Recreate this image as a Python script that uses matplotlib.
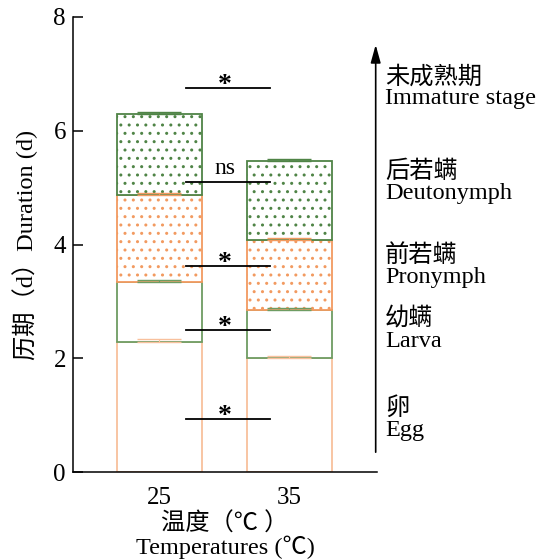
import matplotlib
matplotlib.use("Agg")
import matplotlib.pyplot as plt
import numpy as np

plt.rcParams["font.family"] = ["Liberation Serif", "Noto Sans CJK SC", "DejaVu Sans"]
plt.rcParams["hatch.linewidth"] = 1.0

# ---------------------------------------------------------------------------
# Data
# ---------------------------------------------------------------------------
temps = ["25", "35"]
stages = ["Egg", "Larva", "Pronymph", "Deutonymph"]
egg = [2.29, 2.01]
larva = [1.05, 0.84]
pronymph = [1.53, 1.23]
deutonymph = [1.42, 1.39]
err_egg = [0.04, 0.03]
err_larva = [0.04, 0.04]
err_pronymph = [0.04, 0.04]
err_deutonymph = [0.04, 0.04]

sig_marks = ["*", "*", "*", "ns", "*"]
sig_levels = [0.93, 2.50, 3.62, 5.10, 6.76]
stage_labels = ["卵\nEgg", "幼螨\nLarva", "前若螨\nPronymph",
                "后若螨\nDeutonymph", "未成熟期\nImmature stage"]

ORANGE_LIGHT = "#F8C09C"
ORANGE = "#F29A60"
GREEN_LIGHT = "#6E9C62"
GREEN = "#4F8446"

fig = plt.figure(figsize=(5.44, 5.59), dpi=100)
ax = fig.add_axes([0.134, 0.1556, 0.559, 0.814])

x = np.arange(len(temps))
width = 0.654
segments = [
    (egg, err_egg, ORANGE_LIGHT, None),
    (larva, err_larva, GREEN_LIGHT, None),
    (pronymph, err_pronymph, ORANGE, ".."),
    (deutonymph, err_deutonymph, GREEN, ".."),
]

bottom = np.zeros(len(temps))
for vals, errs, col, hatch in segments:
    vals = np.array(vals)
    ax.bar(x, vals, width, bottom=bottom, color="white", edgecolor=col,
           linewidth=1.3, hatch=hatch, zorder=2)
    top = bottom + vals
    ax.errorbar(x, top, yerr=[np.zeros(len(temps)), errs], fmt="none",
                ecolor=col, elinewidth=0.8, capsize=15.5, capthick=1.0, zorder=3)
    bottom = top

# significance lines between the two bars
for mark, lvl in zip(sig_marks, sig_levels):
    ax.plot([0.205, 0.85], [lvl, lvl], color="black", lw=1.3, zorder=4)
    if mark == "*":
        ax.annotate(mark, (0.5, lvl), xytext=(0, -3), textcoords="offset points",
                    ha="center", va="baseline", fontsize=20, fontweight="bold")
    else:
        ax.annotate(mark, (0.5, lvl), xytext=(0, 2), textcoords="offset points",
                    ha="center", va="bottom", fontsize=17)

# arrow and stage labels on the right
ax.annotate("", xy=(1.663, 7.56), xytext=(1.663, 0.3),
            arrowprops=dict(arrowstyle="-|>,head_length=0.9,head_width=0.25",
                            color="black", lw=1.2, mutation_scale=12),
            annotation_clip=False)
for lab, lvl in zip(stage_labels, sig_levels):
    ax.text(1.735, lvl, lab, ha="left", va="center", fontsize=17.5,
            linespacing=1.0, clip_on=False)

ax.set_xlim(-0.665, 1.673)
ax.set_ylim(0, 8)
ax.set_yticks([0, 2, 4, 6, 8])
ax.set_xticks(x)
ax.set_xticklabels(temps)
ax.tick_params(axis="y", direction="in", length=7, width=1.1, labelsize=18, pad=5)
ax.tick_params(axis="x", length=0, labelsize=18, pad=11)
for s in ["top", "right"]:
    ax.spines[s].set_visible(False)
for s in ["left", "bottom"]:
    ax.spines[s].set_linewidth(1.1)

ax.set_ylabel("历期（d）Duration (d)", fontsize=17.5, labelpad=11)
ax.set_xlabel("温度（℃ ）\nTemperatures (℃)", fontsize=17.5, linespacing=1.0,
              labelpad=2)

fig.savefig("out.png", dpi=100)
